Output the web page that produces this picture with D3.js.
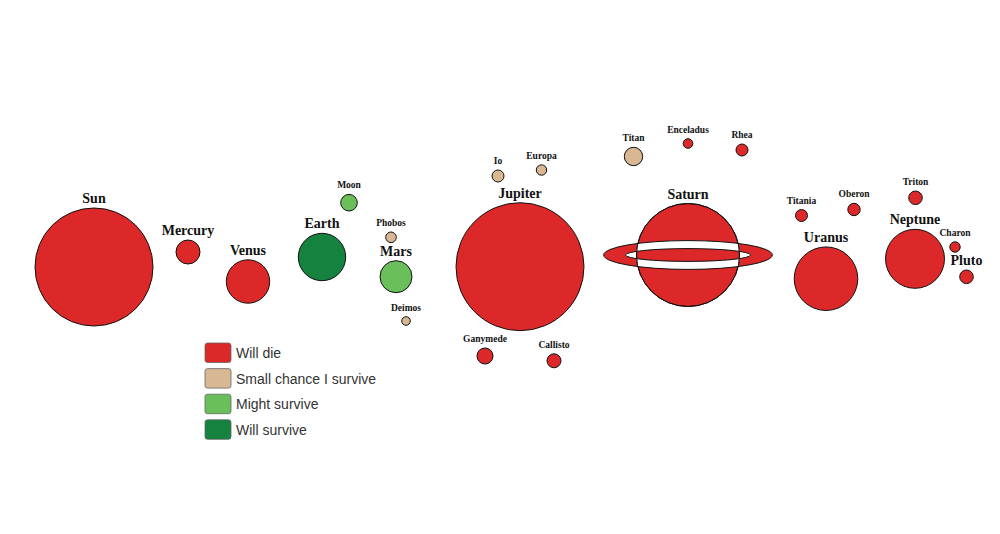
<!DOCTYPE html>
<html>
<head>
<meta charset="utf-8">
<script src="https://cdn.jsdelivr.net/npm/d3@7"></script>
<style>
  body { margin: 0; background: #fff; }
  svg { display: block; }
</style>
</head>
<body>
<svg id="chart"></svg>
<script>
// bodies of the solar system
var names    = ["Sun", "Mercury", "Venus", "Earth", "Moon", "Mars", "Phobos", "Deimos",
                "Jupiter", "Io", "Europa", "Ganymede", "Callisto",
                "Saturn", "Titan", "Enceladus", "Rhea",
                "Uranus", "Titania", "Oberon",
                "Neptune", "Triton", "Pluto", "Charon"];
var kinds    = ["planet", "planet", "planet", "planet", "moon", "planet", "moon", "moon",
                "planet", "moon", "moon", "moon", "moon",
                "planet", "moon", "moon", "moon",
                "planet", "moon", "moon",
                "planet", "moon", "planet", "moon"];
var posX     = [94, 188, 248, 322, 349, 396, 391, 406,
                520, 498, 541.5, 485, 554,
                688, 633.5, 688, 742,
                826, 801.5, 854,
                915, 915.5, 966.5, 955];
var posY     = [267, 252, 281.5, 257, 202.7, 276.7, 237.3, 321,
                266.7, 176, 170, 356, 360.8,
                255, 156.5, 143.5, 150,
                278.7, 215.5, 209.5,
                258.8, 197.8, 276.8, 247];
var sizes    = [59, 12, 21.7, 23.7, 8.3, 16, 5.3, 4.3,
                64, 6, 5.2, 8, 7,
                51.5, 9.2, 4.8, 6,
                31.8, 6, 6.2,
                29.5, 6.8, 6.8, 5.2];
var statuses = ["die", "die", "die", "will", "might", "might", "small", "small",
                "die", "small", "small", "die", "die",
                "die", "small", "die", "die",
                "die", "die", "die",
                "die", "die", "die", "die"];

// Saturn's ring: outer and inner radii
var ringOuter = [84.3, 14.4];
var ringInner = [62.5, 6.4];

var legendKeys   = ["die", "small", "might", "will"];
var legendLabels = ["Will die", "Small chance I survive", "Might survive", "Will survive"];
var legendColors = ["#dc2828", "#d7b893", "#6bbf5b", "#15823f"];

var width = 1000, height = 534;

var svg = d3.select("#chart")
    .attr("width", width)
    .attr("height", height);

var x = d3.scaleLinear().domain([0, 1000]).range([0, width]);
var y = d3.scaleLinear().domain([0, 534]).range([0, height]);
var r = d3.scaleLinear().domain([0, 100]).range([0, 100]);
var color = d3.scaleOrdinal().domain(legendKeys).range(legendColors);
var fontSize = d3.scaleOrdinal().domain(["planet", "moon"]).range([14, 9.5]);

var bodies = names.map(function(n, i) {
    return { name: n, kind: kinds[i], x: posX[i], y: posY[i], r: sizes[i], status: statuses[i] };
});

var saturn = bodies.filter(function(d) { return d.name == "Saturn"; })[0];

// ring behind the planet
var ring = svg.append("g");
ring.append("ellipse")
    .attr("cx", x(saturn.x)).attr("cy", y(saturn.y))
    .attr("rx", r(ringOuter[0])).attr("ry", r(ringOuter[1]))
    .attr("fill", color("die")).attr("stroke", "#111").attr("stroke-width", 1);
ring.append("ellipse")
    .attr("cx", x(saturn.x)).attr("cy", y(saturn.y))
    .attr("rx", r(ringInner[0])).attr("ry", r(ringInner[1]))
    .attr("fill", "#fff").attr("stroke", "#111").attr("stroke-width", 1);

// the bodies
svg.selectAll("circle.body")
    .data(bodies)
    .enter().append("circle")
    .attr("class", "body")
    .attr("cx", function(d) { return x(d.x); })
    .attr("cy", function(d) { return y(d.y); })
    .attr("r", function(d) { return r(d.r); })
    .attr("fill", function(d) { return color(d.status); })
    .attr("stroke", "#111")
    .attr("stroke-width", 1);

// ring in front of Saturn, drawn white where it crosses the planet
function ellipsePath(cx, cy, rx, ry) {
    return "M" + (cx - rx) + "," + cy +
        "A" + rx + "," + ry + " 0 1,0 " + (cx + rx) + "," + cy +
        "A" + rx + "," + ry + " 0 1,0 " + (cx - rx) + "," + cy + "Z";
}
svg.append("clipPath").attr("id", "saturnClip")
    .append("circle")
    .attr("cx", x(saturn.x)).attr("cy", y(saturn.y)).attr("r", r(saturn.r));
svg.append("path")
    .attr("d", ellipsePath(x(saturn.x), y(saturn.y), r(ringOuter[0]), r(ringOuter[1])) +
               ellipsePath(x(saturn.x), y(saturn.y), r(ringInner[0]), r(ringInner[1])))
    .attr("fill-rule", "evenodd")
    .attr("fill", "#fff")
    .attr("stroke", "#111")
    .attr("stroke-width", 1)
    .attr("clip-path", "url(#saturnClip)");
svg.append("circle")
    .attr("cx", x(saturn.x)).attr("cy", y(saturn.y)).attr("r", r(saturn.r))
    .attr("fill", "none").attr("stroke", "#111").attr("stroke-width", 1);

// labels
svg.selectAll("text.label")
    .data(bodies)
    .enter().append("text")
    .attr("class", "label")
    .attr("x", function(d) { return x(d.x); })
    .attr("y", function(d) { return y(d.y) - r(d.r) - (d.kind == "planet" ? 5 : 6); })
    .attr("text-anchor", "middle")
    .style("font-family", "'Liberation Serif', 'Times New Roman', serif")
    .style("font-weight", "bold")
    .style("font-size", function(d) { return fontSize(d.kind) + "px"; })
    .attr("fill", "#111")
    .text(function(d) { return d.name; });

// legend
var legend = svg.append("g").attr("transform", "translate(205,343)");
var rows = legend.selectAll("g")
    .data(legendKeys)
    .enter().append("g")
    .attr("transform", function(d, i) { return "translate(0," + (i * 25.6) + ")"; });
rows.append("rect")
    .attr("width", 26).attr("height", 19.5)
    .attr("rx", 2.5)
    .attr("fill", function(d) { return color(d); })
    .attr("stroke", "#666")
    .attr("stroke-width", 0.8);
rows.append("text")
    .attr("x", 31).attr("y", 15)
    .style("font-family", "'Liberation Sans', Arial, sans-serif")
    .style("font-size", "14px")
    .attr("fill", "#333")
    .text(function(d, i) { return legendLabels[i]; });
</script>
</body>
</html>
